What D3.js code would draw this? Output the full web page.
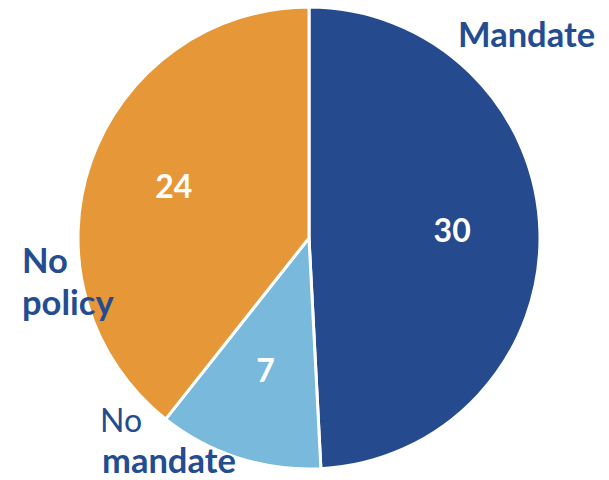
<!DOCTYPE html>
<html>
<head>
<meta charset="utf-8">
<script src="https://cdn.jsdelivr.net/npm/d3@7"></script>
<style>
body { margin: 0; background: #fff; }
text { font-family: Lato, "Open Sans", sans-serif; }
</style>
</head>
<body>
<div class="chart"></div>
<script>
const w = 609,
h = 480,
cx = 309,
cy = 238,
radius = 231;

const categories = ["Mandate", "No mandate", "No policy"];
const values = [30, 7, 24];
const colors = ["#254B8E", "#79BADC", "#E69737"];

const dataset = categories.map((c, i) => ({ name: c, value: values[i], color: colors[i] }));

const svg = d3.select(".chart")
.append("svg")
.attr("width", w)
.attr("height", h);

const pie = d3.pie()
.sort(null)
.value(d => d.value);

const arc = d3.arc()
.innerRadius(0)
.outerRadius(radius);

const labelArc = d3.arc()
.innerRadius(radius * 0.62)
.outerRadius(radius * 0.62);

const g = svg.append("g")
.attr("transform", "translate(" + cx + "," + cy + ")");

const arcs = pie(dataset);

g.selectAll("path")
.data(arcs)
.enter()
.append("path")
.attr("d", arc)
.attr("fill", d => d.data.color)
.attr("stroke", "#fff")
.attr("stroke-width", 3)
.attr("stroke-linejoin", "round");

g.selectAll(".val")
.data(arcs)
.enter()
.append("text")
.attr("class", "val")
.attr("x", d => labelArc.centroid(d)[0])
.attr("y", d => labelArc.centroid(d)[1] - 4)
.attr("dy", "0.36em")
.attr("text-anchor", "middle")
.attr("fill", "#fff")
.attr("font-weight", "bold")
.attr("font-size", 32)
.text(d => d.data.value);

// category labels
const labelColor = "#244C91";
const bold = 34.5;
svg.append("text")
.attr("x", 458)
.attr("y", 47)
.attr("fill", labelColor)
.attr("font-weight", "bold")
.attr("font-size", bold)
.text("Mandate");

svg.append("text")
.attr("x", 22)
.attr("y", 273)
.attr("fill", labelColor)
.attr("font-weight", "bold")
.attr("font-size", bold)
.text("No");
svg.append("text")
.attr("x", 22)
.attr("y", 315)
.attr("fill", labelColor)
.attr("font-weight", "bold")
.attr("font-size", bold)
.text("policy");

svg.append("text")
.attr("x", 100)
.attr("y", 432)
.attr("fill", labelColor)
.attr("font-size", 32)
.text("No");
svg.append("text")
.attr("x", 102)
.attr("y", 473)
.attr("fill", labelColor)
.attr("font-weight", "bold")
.attr("font-size", bold)
.text("mandate");
</script>
</body>
</html>
